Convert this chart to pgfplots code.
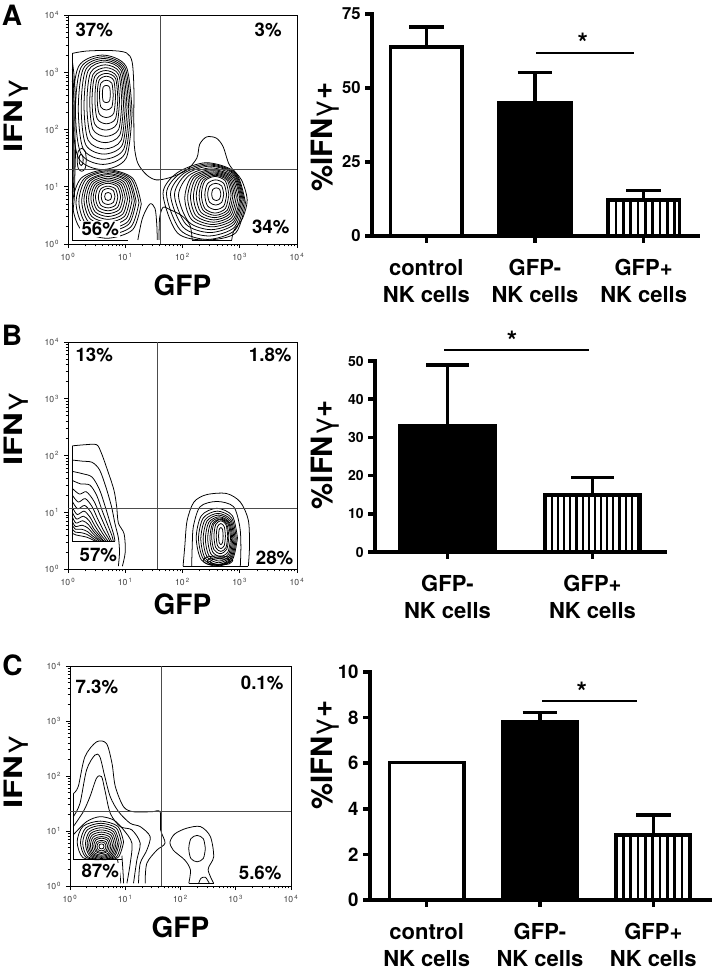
\documentclass[border=0pt]{standalone}
\usepackage{fontspec}
\setmainfont{TeX Gyre Heros}
\newfontfamily\widefont[FakeStretch=1.3]{TeX Gyre Heros}
\usepackage{pgfplots}
\pgfplotsset{compat=1.18}
\usetikzlibrary{patterns.meta}
\tikzset{qlab/.style={font=\bfseries\fontsize{14}{16}\selectfont, fill=white, inner sep=1pt},
  star/.style={font=\bfseries\fontsize{20}{20}\selectfont, yshift=-4.2pt}}
\pgfplotsset{
  cl/.style={black, line width=0.58pt, smooth, mark=none},
  cs/.style={black, line width=0.58pt, sharp plot, mark=none},
  qline/.style={black!70, line width=0.6pt, sharp plot, mark=none},
  facs/.style={
    scale only axis, anchor=south west,
    xmin=0, xmax=4, ymin=0, ymax=4,
    xtick={0,1,2,3,4}, ytick={0,1,2,3,4},
    xticklabels={10\textsuperscript{\,0},10\textsuperscript{\,1},10\textsuperscript{\,2},10\textsuperscript{\,3},10\textsuperscript{\,4}},
    yticklabels={10\textsuperscript{\,0},10\textsuperscript{\,1},10\textsuperscript{\,2},10\textsuperscript{\,3},10\textsuperscript{\,4}},
    minor xtick={0.301,0.477,0.602,0.699,0.778,0.845,0.903,0.954,1.301,1.477,1.602,1.699,1.778,1.845,1.903,1.954,2.301,2.477,2.602,2.699,2.778,2.845,2.903,2.954,3.301,3.477,3.602,3.699,3.778,3.845,3.903,3.954},
    minor ytick={0.301,0.477,0.602,0.699,0.778,0.845,0.903,0.954,1.301,1.477,1.602,1.699,1.778,1.845,1.903,1.954,2.301,2.477,2.602,2.699,2.778,2.845,2.903,2.954,3.301,3.477,3.602,3.699,3.778,3.845,3.903,3.954},
    xtick pos=left, ytick pos=left,
    tick align=outside,
    major tick length=3pt, minor tick length=1.8pt,
    tick style={black, line width=0.5pt},
    axis line style={line width=0.7pt},
    ticklabel style={font=\fontsize{6.5}{7}\selectfont, text=black!75},
    xlabel={GFP},
    xlabel style={font=\bfseries\fontsize{21}{24}\selectfont, anchor=center},
    ylabel={\widefont\bfseries IFN{\mdseries γ}},
    ylabel style={font=\fontsize{19}{22}\selectfont, anchor=center},
  },
  barax/.style={
    scale only axis, anchor=south west,
    axis x line*=bottom, axis y line*=left,
    axis line style={line width=2.6pt, line cap=rect},
    tick style={black, line width=2.6pt},
    tick align=outside, major tick length=5pt,
    ymin=0, clip=false,
    /pgf/number format/assume math mode=true,
    yticklabel style={font=\bfseries\fontsize{12.5}{14}\selectfont},
    xticklabel style={font=\bfseries\fontsize{16.5}{20}\selectfont, align=center, inner sep=2pt, yshift=-10.5pt},
    ylabel={\%IFN{\mdseries γ}+},
    ylabel style={font=\bfseries\fontsize{22}{24}\selectfont, anchor=center},
  },
  wbar/.style={ybar, bar shift=0pt, bar width=0.66, draw=black, line width=2.6pt, fill=white},
  kbar/.style={ybar, bar shift=0pt, bar width=0.66, draw=black, line width=2.6pt, fill=black},
  hbar/.style={ybar, bar shift=0pt, bar width=0.66, draw=black, line width=2.6pt, pattern={Lines[angle=90,distance=5.5pt,line width=2.1pt]}, pattern color=black},
  sig/.style={black, line width=1.1pt, sharp plot, mark=none},
}
\begin{document}
\begin{tikzpicture}
\path[use as bounding box] (0pt,0pt) rectangle (535.5pt,729pt);
\node[font=\bfseries\fontsize{21}{24}\selectfont] at (9pt,717.75pt) {A};
\node[font=\bfseries\fontsize{21}{24}\selectfont] at (9pt,477.75pt) {B};
\node[font=\bfseries\fontsize{21}{24}\selectfont] at (9.4pt,230.25pt) {C};

%================ A contour
\begin{axis}[facs, at={(51pt,546pt)}, width=171.75pt, height=171.75pt,
  xlabel style={at={(axis description cs:0.5,-0.18)}},
  ylabel style={at={(axis description cs:-0.227,0.56)}}]
% envelope
\addplot[cl] coordinates {(0.076,3.33)(0.32,3.37)(0.73,3.38)(1.02,3.34)(1.12,3.18)(1.15,2.75)(1.15,2.17)(1.16,1.70)(1.22,1.41)(1.37,1.21)(1.54,1.12)(1.78,1.16)(2.07,1.29)(2.25,1.50)(2.30,1.74)(2.42,1.87)(2.59,1.85)(2.71,1.70)(2.82,1.38)(3.03,1.12)(3.13,0.77)(3.05,0.45)(2.90,0.24)(2.86,0.07)};
\addplot[cl] coordinates {(2.17,0.07)(2.13,0.33)(1.98,0.50)(1.78,0.60)(1.66,0.64)(1.60,0.45)(1.59,0.07)};
\addplot[cl] coordinates {(1.22,0.07)(1.30,0.45)(1.43,0.70)(1.52,0.62)(1.55,0.35)(1.56,0.07)};
\addplot[cs] coordinates {(0.076,0.07)(0.076,3.33)};
\addplot[cs] coordinates {(0.076,0.07)(1.05,0.07)};
\addplot[cs] coordinates {(2.17,0.07)(2.86,0.07)};
% left column
\addplot[cl] coordinates {(0.076,3.20)(0.11,2.90)(0.13,2.50)(0.12,2.00)(0.13,1.60)(0.12,1.20)(0.11,0.80)(0.076,0.50)};
\addplot[cl] coordinates {(0.076,3.05)(0.10,2.70)(0.11,2.30)(0.10,1.90)(0.11,1.50)(0.10,1.10)(0.076,0.70)};
\addplot[cl] coordinates {(0.076,2.85)(0.09,2.40)(0.09,1.80)(0.09,1.30)(0.076,0.90)};
\addplot[cl] coordinates {(0.265,1.47)(0.256,1.545)(0.23,1.57)(0.204,1.545)(0.195,1.47)(0.204,1.395)(0.23,1.37)(0.256,1.395)(0.265,1.47)};
\addplot[cl] coordinates {(0.32,1.47)(0.30,1.62)(0.24,1.67)(0.18,1.62)(0.16,1.47)(0.18,1.32)(0.24,1.27)(0.30,1.32)(0.32,1.47)};
% upper-left blob
\addplot[cl] coordinates {(1.12,2.30)(1.016,3.10)(0.60,3.30)(0.184,3.10)(0.08,2.30)(0.184,1.50)(0.60,1.30)(1.016,1.50)(1.12,2.30)};
\addplot[cl] coordinates {(1.09,2.33)(0.994,3.082)(0.61,3.27)(0.226,3.082)(0.13,2.33)(0.226,1.578)(0.61,1.39)(0.994,1.578)(1.09,2.33)};
\addplot[cl] coordinates {(1.06,2.36)(0.972,3.064)(0.62,3.24)(0.268,3.064)(0.18,2.36)(0.268,1.656)(0.62,1.48)(0.972,1.656)(1.06,2.36)};
\addplot[cl] coordinates {(1.03,2.39)(0.95,3.046)(0.63,3.21)(0.31,3.046)(0.23,2.39)(0.31,1.734)(0.63,1.57)(0.95,1.734)(1.03,2.39)};
\addplot[cl] coordinates {(1.00,2.42)(0.928,3.028)(0.64,3.18)(0.352,3.028)(0.28,2.42)(0.352,1.812)(0.64,1.66)(0.928,1.812)(1.00,2.42)};
\addplot[cl] coordinates {(0.97,2.45)(0.906,2.994)(0.65,3.13)(0.394,2.994)(0.33,2.45)(0.394,1.906)(0.65,1.77)(0.906,1.906)(0.97,2.45)};
\addplot[cl] coordinates {(0.94,2.48)(0.884,2.96)(0.66,3.08)(0.436,2.96)(0.38,2.48)(0.436,2.00)(0.66,1.88)(0.884,2.00)(0.94,2.48)};
\addplot[cl] coordinates {(0.90,2.51)(0.852,2.926)(0.66,3.03)(0.468,2.926)(0.42,2.51)(0.468,2.094)(0.66,1.99)(0.852,2.094)(0.90,2.51)};
\addplot[cl] coordinates {(0.87,2.54)(0.83,2.892)(0.67,2.98)(0.51,2.892)(0.47,2.54)(0.51,2.188)(0.67,2.10)(0.83,2.188)(0.87,2.54)};
\addplot[cl] coordinates {(0.83,2.57)(0.798,2.858)(0.67,2.93)(0.542,2.858)(0.51,2.57)(0.542,2.282)(0.67,2.21)(0.798,2.282)(0.83,2.57)};
\addplot[cl] coordinates {(0.79,2.60)(0.766,2.808)(0.67,2.86)(0.574,2.808)(0.55,2.60)(0.574,2.392)(0.67,2.34)(0.766,2.392)(0.79,2.60)};
\addplot[cl] coordinates {(0.74,2.62)(0.726,2.74)(0.67,2.77)(0.614,2.74)(0.60,2.62)(0.614,2.50)(0.67,2.47)(0.726,2.50)(0.74,2.62)};
% lower-left blob
\addplot[cl] coordinates {(1.28,0.70)(1.13,1.15)(0.68,1.30)(0.23,1.15)(0.08,0.70)(0.23,0.25)(0.68,0.10)(1.13,0.25)(1.28,0.70)};
\addplot[cl] coordinates {(1.24,0.72)(1.10,1.14)(0.69,1.28)(0.28,1.14)(0.14,0.72)(0.28,0.30)(0.69,0.16)(1.10,0.30)(1.24,0.72)};
\addplot[cl] coordinates {(1.19,0.74)(1.065,1.13)(0.69,1.26)(0.315,1.13)(0.19,0.74)(0.315,0.35)(0.69,0.22)(1.065,0.35)(1.19,0.74)};
\addplot[cl] coordinates {(1.16,0.75)(1.045,1.11)(0.70,1.23)(0.355,1.11)(0.24,0.75)(0.355,0.39)(0.70,0.27)(1.045,0.39)(1.16,0.75)};
\addplot[cl] coordinates {(1.12,0.77)(1.015,1.10)(0.70,1.21)(0.385,1.10)(0.28,0.77)(0.385,0.44)(0.70,0.33)(1.015,0.44)(1.12,0.77)};
\addplot[cl] coordinates {(1.08,0.78)(0.985,1.08)(0.70,1.18)(0.415,1.08)(0.32,0.78)(0.415,0.48)(0.70,0.38)(0.985,0.48)(1.08,0.78)};
\addplot[cl] coordinates {(1.04,0.79)(0.955,1.06)(0.70,1.15)(0.445,1.06)(0.36,0.79)(0.445,0.52)(0.70,0.43)(0.955,0.52)(1.04,0.79)};
\addplot[cl] coordinates {(1.00,0.80)(0.925,1.04)(0.70,1.12)(0.475,1.04)(0.40,0.80)(0.475,0.56)(0.70,0.48)(0.925,0.56)(1.00,0.80)};
\addplot[cl] coordinates {(0.96,0.81)(0.895,1.02)(0.70,1.09)(0.505,1.02)(0.44,0.81)(0.505,0.60)(0.70,0.53)(0.895,0.60)(0.96,0.81)};
\addplot[cl] coordinates {(0.92,0.82)(0.865,1.00)(0.70,1.06)(0.535,1.00)(0.48,0.82)(0.535,0.64)(0.70,0.58)(0.865,0.64)(0.92,0.82)};
\addplot[cl] coordinates {(0.87,0.82)(0.828,0.963)(0.70,1.01)(0.573,0.963)(0.53,0.82)(0.573,0.678)(0.70,0.63)(0.828,0.678)(0.87,0.82)};
\addplot[cl] coordinates {(0.82,0.83)(0.79,0.935)(0.70,0.97)(0.61,0.935)(0.58,0.83)(0.61,0.725)(0.70,0.69)(0.79,0.725)(0.82,0.83)};
\addplot[cl] coordinates {(0.76,0.83)(0.745,0.883)(0.70,0.90)(0.655,0.883)(0.64,0.83)(0.655,0.778)(0.70,0.76)(0.745,0.778)(0.76,0.83)};
% lower-right blob
\addplot[cl] coordinates {(3.10,0.72)(2.93,1.245)(2.42,1.42)(1.91,1.245)(1.66,0.88)(1.91,0.195)(2.42,0.07)(2.93,0.195)(3.10,0.72)};
\addplot[cl] coordinates {(3.08,0.74)(2.92,1.235)(2.44,1.40)(1.96,1.235)(1.72,0.88)(1.96,0.245)(2.44,0.08)(2.92,0.245)(3.08,0.74)};
\addplot[cl] coordinates {(3.06,0.76)(2.91,1.225)(2.46,1.38)(2.01,1.225)(1.79,0.87)(2.01,0.295)(2.46,0.14)(2.91,0.295)(3.06,0.76)};
\addplot[cl] coordinates {(3.04,0.78)(2.90,1.215)(2.48,1.36)(2.06,1.215)(1.86,0.86)(2.06,0.345)(2.48,0.20)(2.90,0.345)(3.04,0.78)};
\addplot[cl] coordinates {(3.02,0.79)(2.89,1.195)(2.50,1.33)(2.11,1.195)(1.93,0.85)(2.11,0.385)(2.50,0.25)(2.89,0.385)(3.02,0.79)};
\addplot[cl] coordinates {(3.00,0.80)(2.88,1.175)(2.52,1.30)(2.16,1.175)(2.04,0.80)(2.16,0.425)(2.52,0.30)(2.88,0.425)(3.00,0.80)};
\addplot[cl] coordinates {(2.97,0.81)(2.86,1.163)(2.53,1.28)(2.20,1.163)(2.09,0.81)(2.20,0.458)(2.53,0.34)(2.86,0.458)(2.97,0.81)};
\addplot[cl] coordinates {(2.94,0.82)(2.84,1.15)(2.54,1.26)(2.24,1.15)(2.14,0.82)(2.24,0.49)(2.54,0.38)(2.84,0.49)(2.94,0.82)};
\addplot[cl] coordinates {(2.91,0.83)(2.82,1.138)(2.55,1.24)(2.28,1.138)(2.19,0.83)(2.28,0.523)(2.55,0.42)(2.82,0.523)(2.91,0.83)};
\addplot[cl] coordinates {(2.88,0.84)(2.80,1.125)(2.56,1.22)(2.32,1.125)(2.24,0.84)(2.32,0.555)(2.56,0.46)(2.80,0.555)(2.88,0.84)};
\addplot[cl] coordinates {(2.85,0.85)(2.78,1.113)(2.57,1.20)(2.36,1.113)(2.29,0.85)(2.36,0.588)(2.57,0.50)(2.78,0.588)(2.85,0.85)};
\addplot[cl] coordinates {(2.81,0.86)(2.75,1.10)(2.57,1.18)(2.39,1.10)(2.33,0.86)(2.39,0.62)(2.57,0.54)(2.75,0.62)(2.81,0.86)};
\addplot[cl] coordinates {(2.77,0.86)(2.723,1.055)(2.58,1.12)(2.438,1.055)(2.39,0.86)(2.438,0.665)(2.58,0.60)(2.723,0.665)(2.77,0.86)};
\addplot[cl] coordinates {(2.72,0.87)(2.685,1.013)(2.58,1.06)(2.475,1.013)(2.44,0.87)(2.475,0.728)(2.58,0.68)(2.685,0.728)(2.72,0.87)};
\addplot[cl] coordinates {(2.67,0.87)(2.65,0.953)(2.59,0.98)(2.53,0.953)(2.51,0.87)(2.53,0.788)(2.59,0.76)(2.65,0.788)(2.67,0.87)};
% quadrant lines
\addplot[qline] coordinates {(1.61,0)(1.61,4)};
\addplot[qline] coordinates {(0,1.31)(4,1.31)};
\node[qlab, anchor=west] at (rel axis cs:0.026,0.934) {37\%};
\node[qlab, anchor=east] at (rel axis cs:0.94,0.934) {3\%};
\node[qlab, anchor=west] at (rel axis cs:0.052,0.066) {56\%};
\node[qlab, anchor=east] at (rel axis cs:0.974,0.074) {34\%};
\end{axis}

%================ A bars
\begin{axis}[barax, at={(279pt,552pt)}, width=244.5pt, height=166.5pt,
  xmin=-0.5, xmax=2.5, ymax=75, ytick={0,25,50,75},
  xtick={0,1,2}, xticklabels={{control\\NK cells},{GFP-\\NK cells},{GFP+\\NK cells}},
  ylabel style={at={(axis description cs:-0.144,0.446)}}]
\addplot[wbar, error bars/.cd, y dir=plus, y explicit, error bar style={line width=2.6pt, black}, error mark options={rotate=90, line width=2.6pt, mark size=13pt, black}] coordinates {(0,63.8) +- (0,6.8)};
\addplot[kbar, error bars/.cd, y dir=plus, y explicit, error bar style={line width=2.6pt, black}, error mark options={rotate=90, line width=2.6pt, mark size=13pt, black}] coordinates {(1,45.0) +- (0,10.2)};
\addplot[hbar, error bars/.cd, y dir=plus, y explicit, error bar style={line width=2.6pt, black}, error mark options={rotate=90, line width=2.6pt, mark size=13pt, black}] coordinates {(2,12.1) +- (0,3.3)};
\addplot[sig] coordinates {(1.01,61.9)(1.91,61.9)};
\node[star] at (axis cs:1.44,67.2) {*};
\end{axis}

%================ B contour
\begin{axis}[facs, at={(51pt,302.25pt)}, width=171.75pt, height=170.25pt,
  xlabel style={at={(axis description cs:0.5,-0.154)}},
  ylabel style={at={(axis description cs:-0.227,0.62)}}]
\addplot[cl] coordinates {(0.076,2.17)(0.30,2.19)(0.50,2.19)(0.58,2.05)(0.67,1.80)(0.80,1.40)(0.85,1.10)(0.88,0.81)(0.98,0.62)(1.00,0.30)(0.95,0.05)};
\addplot[cl] coordinates {(0.076,1.92)(0.25,1.90)(0.42,1.88)(0.55,1.75)(0.66,1.45)(0.76,1.10)(0.82,0.80)(0.88,0.55)(0.90,0.30)(0.88,0.05)};
\addplot[cl] coordinates {(0.076,1.72)(0.25,1.68)(0.42,1.62)(0.55,1.40)(0.65,1.10)(0.74,0.80)(0.80,0.60)(0.82,0.49)};
\addplot[cl] coordinates {(0.076,1.56)(0.22,1.50)(0.38,1.48)(0.50,1.30)(0.60,1.02)(0.70,0.76)(0.77,0.58)(0.79,0.49)};
\addplot[cl] coordinates {(0.076,1.42)(0.20,1.32)(0.32,1.36)(0.45,1.20)(0.56,0.95)(0.66,0.72)(0.73,0.56)(0.76,0.49)};
\addplot[cl] coordinates {(0.076,1.30)(0.18,1.18)(0.30,1.24)(0.42,1.10)(0.52,0.88)(0.62,0.68)(0.70,0.55)(0.73,0.49)};
\addplot[cl] coordinates {(0.076,1.19)(0.17,1.06)(0.29,1.12)(0.40,1.00)(0.49,0.82)(0.59,0.65)(0.67,0.53)(0.70,0.49)};
\addplot[cl] coordinates {(0.076,1.09)(0.16,0.96)(0.28,1.02)(0.38,0.92)(0.47,0.76)(0.56,0.62)(0.64,0.52)(0.67,0.49)};
\addplot[cl] coordinates {(0.076,1.00)(0.15,0.88)(0.27,0.93)(0.37,0.85)(0.45,0.71)(0.54,0.60)(0.61,0.51)(0.64,0.49)};
\addplot[cl] coordinates {(0.076,0.92)(0.14,0.81)(0.26,0.85)(0.36,0.78)(0.44,0.67)(0.52,0.58)(0.61,0.49)};
\addplot[cl] coordinates {(0.076,0.84)(0.13,0.75)(0.25,0.77)(0.35,0.72)(0.43,0.63)(0.51,0.55)(0.58,0.49)};
\addplot[cl] coordinates {(0.076,0.77)(0.13,0.70)(0.24,0.70)(0.34,0.66)(0.42,0.59)(0.50,0.53)(0.55,0.49)};
\addplot[cl] coordinates {(0.076,0.70)(0.13,0.65)(0.23,0.64)(0.33,0.61)(0.41,0.56)(0.48,0.51)(0.52,0.49)};
\addplot[cl] coordinates {(0.076,0.63)(0.14,0.60)(0.24,0.58)(0.33,0.56)(0.42,0.52)(0.48,0.49)};
\addplot[cs] coordinates {(0.076,0.49)(0.076,2.17)};
\addplot[cs] coordinates {(0.076,0.49)(0.82,0.49)};
% right blob
\addplot[cl] coordinates {(2.01,0.05)(2.04,0.40)(2.08,0.85)(2.20,1.18)(2.42,1.31)(2.77,1.33)(3.01,1.18)(3.15,0.86)(3.17,0.40)(3.15,0.05)};
\addplot[cl] coordinates {(2.16,0.05)(2.17,0.40)(2.19,0.75)(2.31,1.10)(2.60,1.19)(2.89,1.10)(3.00,0.75)(3.02,0.40)(3.01,0.05)};
\addplot[cs] coordinates {(2.01,0.05)(3.15,0.05)};
\addplot[cl] coordinates {(2.96,0.55)(2.87,0.94)(2.60,1.07)(2.33,0.94)(2.24,0.55)(2.33,0.16)(2.60,0.05)(2.87,0.16)(2.96,0.55)};
\addplot[cl] coordinates {(2.94,0.54)(2.858,0.90)(2.61,1.02)(2.363,0.90)(2.28,0.54)(2.363,0.18)(2.61,0.06)(2.858,0.18)(2.94,0.54)};
\addplot[cl] coordinates {(2.92,0.53)(2.845,0.868)(2.62,0.98)(2.395,0.868)(2.32,0.53)(2.395,0.193)(2.62,0.08)(2.845,0.193)(2.92,0.53)};
\addplot[cl] coordinates {(2.90,0.53)(2.833,0.845)(2.63,0.95)(2.428,0.845)(2.36,0.53)(2.428,0.215)(2.63,0.11)(2.833,0.215)(2.90,0.53)};
\addplot[cl] coordinates {(2.88,0.53)(2.82,0.823)(2.64,0.92)(2.46,0.823)(2.40,0.53)(2.46,0.238)(2.64,0.14)(2.82,0.238)(2.88,0.53)};
\addplot[cl] coordinates {(2.86,0.54)(2.808,0.81)(2.65,0.90)(2.493,0.81)(2.44,0.54)(2.493,0.27)(2.65,0.18)(2.808,0.27)(2.86,0.54)};
\addplot[cl] coordinates {(2.84,0.55)(2.795,0.798)(2.66,0.88)(2.525,0.798)(2.48,0.55)(2.525,0.303)(2.66,0.22)(2.795,0.303)(2.84,0.55)};
\addplot[cl] coordinates {(2.81,0.57)(2.773,0.795)(2.66,0.87)(2.548,0.795)(2.51,0.57)(2.548,0.345)(2.66,0.27)(2.773,0.345)(2.81,0.57)};
\addplot[cl] coordinates {(2.79,0.58)(2.76,0.783)(2.67,0.85)(2.58,0.783)(2.55,0.58)(2.58,0.378)(2.67,0.31)(2.76,0.378)(2.79,0.58)};
\addplot[cl] coordinates {(2.75,0.58)(2.73,0.745)(2.67,0.80)(2.61,0.745)(2.59,0.58)(2.61,0.415)(2.67,0.36)(2.73,0.415)(2.75,0.58)};
\addplot[cl] coordinates {(2.71,0.58)(2.70,0.693)(2.67,0.73)(2.64,0.693)(2.63,0.58)(2.64,0.468)(2.67,0.43)(2.70,0.468)(2.71,0.58)};
\addplot[cl] coordinates {(2.88,0.15)(2.815,0.21)(2.62,0.23)(2.425,0.21)(2.36,0.15)(2.425,0.09)(2.62,0.07)(2.815,0.09)(2.88,0.15)};
\addplot[cl] coordinates {(2.83,0.14)(2.78,0.185)(2.63,0.20)(2.48,0.185)(2.43,0.14)(2.48,0.095)(2.63,0.08)(2.78,0.095)(2.83,0.14)};
\addplot[cl] coordinates {(2.77,0.13)(2.735,0.168)(2.63,0.18)(2.525,0.168)(2.49,0.13)(2.525,0.093)(2.63,0.08)(2.735,0.093)(2.77,0.13)};
\addplot[qline] coordinates {(1.56,0)(1.56,4)};
\addplot[qline] coordinates {(0,1.06)(4,1.06)};
\node[qlab, anchor=west] at (rel axis cs:0.026,0.943) {13\%};
\node[qlab, anchor=east] at (rel axis cs:0.983,0.943) {1.8\%};
\node[qlab, anchor=west] at (rel axis cs:0.044,0.062) {57\%};
\node[qlab, anchor=east] at (rel axis cs:0.991,0.048) {28\%};
\end{axis}

%================ B bars
\begin{axis}[barax, at={(281.25pt,315pt)}, width=217.5pt, height=143.25pt,
  xmin=-0.5, xmax=1.5, ymax=50, ytick={0,10,20,30,40,50},
  yticklabel style={font=\bfseries\fontsize{10.5}{12}\selectfont},
  xtick={0,1}, xticklabels={{GFP-\\NK cells},{GFP+\\NK cells}},
  hbar/.append style={pattern={Lines[angle=90,distance=4.6pt,line width=1.6pt]}},
  ylabel style={at={(axis description cs:-0.172,0.51)}}]
\addplot[kbar, error bars/.cd, y dir=plus, y explicit, error bar style={line width=2.6pt, black}, error mark options={rotate=90, line width=2.6pt, mark size=16pt, black}] coordinates {(0,33.1) +- (0,15.9)};
\addplot[hbar, error bars/.cd, y dir=plus, y explicit, error bar style={line width=2.6pt, black}, error mark options={rotate=90, line width=2.6pt, mark size=16pt, black}] coordinates {(1,14.9) +- (0,4.6)};
\addplot[sig] coordinates {(-0.024,52.9)(0.976,52.9)};
\node[star] at (axis cs:0.445,56.8) {*};
\end{axis}

%================ C contour
\begin{axis}[facs, at={(52.5pt,64.5pt)}, width=165.75pt, height=165pt,
  xlabel style={at={(axis description cs:0.5,-0.186)}},
  ylabel style={at={(axis description cs:-0.244,0.52)}}]
\addplot[cl] coordinates {(0.06,1.68)(0.15,1.81)(0.27,2.35)(0.48,2.62)(0.66,2.59)(0.76,2.23)(0.82,1.81)(0.97,1.44)(1.15,1.35)(1.48,1.35)(1.63,1.35)(1.64,1.02)(1.72,0.78)(1.57,0.65)(1.39,0.41)(1.36,0.05)};
\addplot[cl] coordinates {(0.06,1.26)(0.18,1.50)(0.30,2.11)(0.45,2.38)(0.54,2.35)(0.63,1.99)(0.73,1.62)(0.88,1.35)(1.09,1.14)(1.27,1.08)(1.45,0.90)(1.39,0.65)(1.27,0.41)(1.24,0.05)};
\addplot[cl] coordinates {(0.06,1.08)(0.24,1.35)(0.36,1.62)(0.48,1.96)(0.57,1.99)(0.63,1.75)(0.73,1.32)(0.91,1.08)(1.12,1.02)(1.27,0.78)(1.21,0.47)(1.15,0.05)};
\addplot[cl] coordinates {(0.06,0.93)(0.30,1.17)(0.54,1.26)(0.79,1.20)(0.97,1.02)(1.12,0.78)(1.09,0.41)(1.03,0.05)};
\addplot[cs] coordinates {(0.06,0.48)(0.06,1.68)};
\addplot[cs] coordinates {(0.06,0.48)(0.95,0.48)};
\addplot[cl] coordinates {(0.86,0.48)(0.90,0.25)(0.92,0.05)};
\addplot[cl] coordinates {(0.94,0.55)(0.96,0.25)(0.97,0.05)};
\addplot[cl] coordinates {(0.97,0.80)(0.865,1.085)(0.55,1.18)(0.235,1.085)(0.13,0.80)(0.235,0.515)(0.55,0.48)(0.865,0.515)(0.97,0.80)};
\addplot[cl] coordinates {(0.93,0.79)(0.838,1.053)(0.56,1.14)(0.283,1.053)(0.19,0.79)(0.283,0.528)(0.56,0.48)(0.838,0.528)(0.93,0.79)};
\addplot[cl] coordinates {(0.89,0.78)(0.808,1.02)(0.56,1.10)(0.313,1.02)(0.23,0.78)(0.313,0.54)(0.56,0.48)(0.808,0.54)(0.89,0.78)};
\addplot[cl] coordinates {(0.86,0.77)(0.788,0.988)(0.57,1.06)(0.353,0.988)(0.28,0.77)(0.353,0.553)(0.57,0.48)(0.788,0.553)(0.86,0.77)};
\addplot[cl] coordinates {(0.83,0.76)(0.765,0.955)(0.57,1.02)(0.375,0.955)(0.31,0.76)(0.375,0.565)(0.57,0.50)(0.765,0.565)(0.83,0.76)};
\addplot[cl] coordinates {(0.80,0.75)(0.743,0.923)(0.57,0.98)(0.398,0.923)(0.34,0.75)(0.398,0.578)(0.57,0.52)(0.743,0.578)(0.80,0.75)};
\addplot[cl] coordinates {(0.77,0.74)(0.72,0.89)(0.57,0.94)(0.42,0.89)(0.37,0.74)(0.42,0.59)(0.57,0.54)(0.72,0.59)(0.77,0.74)};
\addplot[cl] coordinates {(0.74,0.73)(0.698,0.858)(0.57,0.90)(0.443,0.858)(0.40,0.73)(0.443,0.603)(0.57,0.56)(0.698,0.603)(0.74,0.73)};
\addplot[cl] coordinates {(0.71,0.73)(0.675,0.835)(0.57,0.87)(0.465,0.835)(0.43,0.73)(0.465,0.625)(0.57,0.59)(0.675,0.625)(0.71,0.73)};
\addplot[cl] coordinates {(0.68,0.72)(0.653,0.803)(0.57,0.83)(0.488,0.803)(0.46,0.72)(0.488,0.638)(0.57,0.61)(0.653,0.638)(0.68,0.72)};
\addplot[cl] coordinates {(0.65,0.72)(0.63,0.78)(0.57,0.80)(0.51,0.78)(0.49,0.72)(0.51,0.66)(0.57,0.64)(0.63,0.66)(0.65,0.72)};
\addplot[cl] coordinates {(0.615,0.72)(0.604,0.754)(0.57,0.765)(0.536,0.754)(0.525,0.72)(0.536,0.686)(0.57,0.675)(0.604,0.686)(0.615,0.72)};
% right small blob
\addplot[cl] coordinates {(2.15,0.05)(2.18,0.29)(2.08,0.47)(1.87,0.65)(1.81,0.80)(1.90,0.95)(2.11,1.05)(2.36,1.08)(2.54,0.90)(2.60,0.53)(2.50,0.30)(2.60,0.05)};
\addplot[cs] coordinates {(2.15,0.05)(2.60,0.05)};
\addplot[cl] coordinates {(2.45,0.68)(2.413,0.86)(2.30,0.92)(2.188,0.86)(2.15,0.68)(2.188,0.50)(2.30,0.44)(2.413,0.50)(2.45,0.68)};
\addplot[cl] coordinates {(2.33,0.05)(2.37,0.14)(2.45,0.16)(2.52,0.05)};
\addplot[qline] coordinates {(1.66,0)(1.66,4)};
\addplot[qline] coordinates {(0,1.36)(4,1.36)};
\node[qlab, anchor=west] at (rel axis cs:0.018,0.905) {7.3\%};
\node[qlab, anchor=east] at (rel axis cs:0.973,0.923) {0.1\%};
\node[qlab, anchor=west] at (rel axis cs:0.045,0.068) {87\%};
\node[qlab, anchor=east] at (rel axis cs:0.964,0.059) {5.6\%};
\end{axis}

%================ C bars
\begin{axis}[barax, at={(277.5pt,54pt)}, width=255pt, height=171pt,
  xmin=-0.5, xmax=2.5, ymax=10, ytick={0,2,4,6,8,10},
  yticklabel style={font=\bfseries\fontsize{14}{16}\selectfont},
  xtick={0,1,2}, xticklabels={{control\\NK cells},{GFP-\\NK cells},{GFP+\\NK cells}},
  ylabel style={at={(axis description cs:-0.132,0.636)}}]
\addplot[wbar] coordinates {(0,6.02)};
\addplot[kbar, error bars/.cd, y dir=plus, y explicit, error bar style={line width=2.6pt, black}, error mark options={rotate=90, line width=2.6pt, mark size=13pt, black}] coordinates {(1,7.82) +- (0,0.40)};
\addplot[hbar, error bars/.cd, y dir=plus, y explicit, error bar style={line width=2.6pt, black}, error mark options={rotate=90, line width=2.6pt, mark size=13pt, black}] coordinates {(2,2.85) +- (0,0.88)};
\addplot[sig] coordinates {(1.018,8.73)(1.857,8.73)};
\node[star] at (axis cs:1.37,9.36) {*};
\end{axis}
\end{tikzpicture}
\end{document}
